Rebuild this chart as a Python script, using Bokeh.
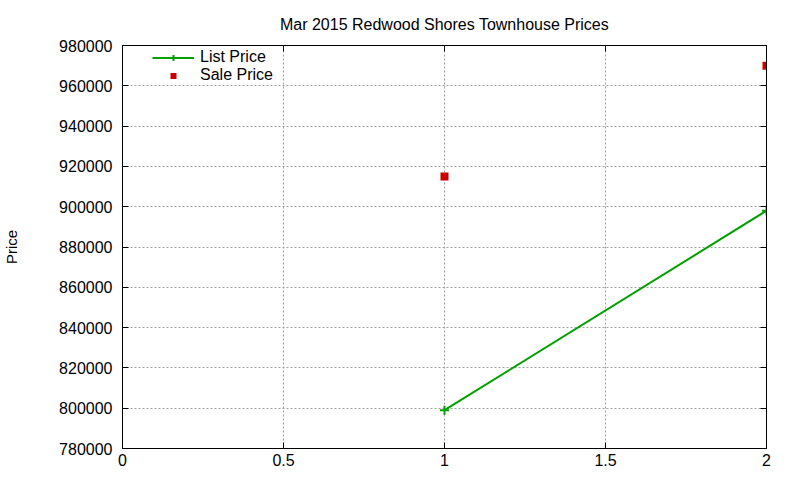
from bokeh.plotting import figure
from bokeh.models import Range1d, FixedTicker, LinearAxis, Legend, LegendItem
from bokeh.embed import file_html
from bokeh.resources import INLINE

title = "Mar 2015 Redwood Shores Townhouse Prices"
list_x = [1, 2]
list_price = [799000, 898000]
sale_x = [1, 2]
sale_price = [915000, 970000]
x_ticks = [0, 0.5, 1, 1.5, 2]
x_tick_labels = ["0", "0.5", "1", "1.5", "2"]
y_ticks = [780000, 800000, 820000, 840000, 860000, 880000, 900000, 920000, 940000, 960000, 980000]

FONT = "Liberation Sans"

p = figure(width=800, height=480, output_backend="svg", toolbar_location=None,
           x_range=Range1d(0, 2), y_range=Range1d(780000, 980000),
           min_border_left=120, min_border_right=34, min_border_top=45, min_border_bottom=32)
p.title.text = title
p.title.align = "center"
p.title.vertical_align = "top"
p.title.text_font = FONT
p.title.text_font_size = "16px"
p.title.text_font_style = "normal"
p.title.text_color = "#000000"
p.title.offset = 0
p.title.standoff = 22

p.outline_line_color = "black"
p.outline_line_width = 1
p.outline_line_alpha = 1

for ax in (p.xaxis[0], p.yaxis[0]):
    ax.major_label_text_font = FONT
    ax.major_label_text_font_size = "16px"
    ax.major_label_text_color = "black"
    ax.axis_line_color = "black"
    ax.major_tick_in = 6
    ax.major_tick_out = 0
    ax.minor_tick_in = 0
    ax.minor_tick_out = 0
    ax.major_tick_line_color = "black"

p.xaxis[0].ticker = FixedTicker(ticks=x_ticks)
p.xaxis[0].major_label_overrides = {t: l for t, l in zip(x_ticks, x_tick_labels)}
p.xaxis[0].major_label_standoff = 5
p.yaxis[0].ticker = FixedTicker(ticks=y_ticks)
p.yaxis[0].major_label_overrides = {t: str(t) for t in y_ticks}
p.yaxis[0].major_label_standoff = 10
p.yaxis[0].axis_label = "Price"
p.yaxis[0].axis_label_text_font = FONT
p.yaxis[0].axis_label_text_font_size = "15px"
p.yaxis[0].axis_label_text_font_style = "normal"
p.yaxis[0].axis_label_text_color = "black"
p.yaxis[0].axis_label_standoff = 36

top_ax = LinearAxis(ticker=FixedTicker(ticks=x_ticks),
                    major_label_overrides={t: "" for t in x_ticks},
                    major_tick_in=6, major_tick_out=0, minor_tick_in=0, minor_tick_out=0,
                    axis_line_color="black", major_label_standoff=0)
right_ax = LinearAxis(ticker=FixedTicker(ticks=y_ticks),
                      major_label_overrides={t: "" for t in y_ticks},
                      major_tick_in=6, major_tick_out=0, minor_tick_in=0, minor_tick_out=0,
                      axis_line_color="black", major_label_standoff=0)
p.add_layout(top_ax, "above")
p.add_layout(right_ax, "right")

p.xgrid.ticker = FixedTicker(ticks=x_ticks)
p.ygrid.ticker = FixedTicker(ticks=y_ticks)
for g in (p.xgrid[0], p.ygrid[0]):
    g.grid_line_color = "#a0a0a0"
    g.grid_line_dash = "2 2"
    g.grid_line_width = 1

GREEN = "#00a000"
RED = "#cc0000"
l1 = p.line(list_x, list_price, line_color=GREEN, line_width=2)
m1 = p.scatter(list_x, list_price, marker="cross", size=9, line_color=GREEN, line_width=2)
s1 = p.scatter(sale_x, sale_price, marker="square", size=8, fill_color=RED, line_color=None)

legend = Legend(items=[LegendItem(label="List Price", renderers=[l1, m1]),
                       LegendItem(label="Sale Price", renderers=[s1])],
                location=(30, 364), border_line_color=None, background_fill_alpha=0,
                label_text_font=FONT, label_text_font_size="16px", label_text_color="black",
                glyph_width=42, glyph_height=15, label_height=15, spacing=0, padding=0,
                margin=0, label_standoff=6)
p.add_layout(legend, "center")

open("out.html", "w").write(file_html(p, INLINE))
